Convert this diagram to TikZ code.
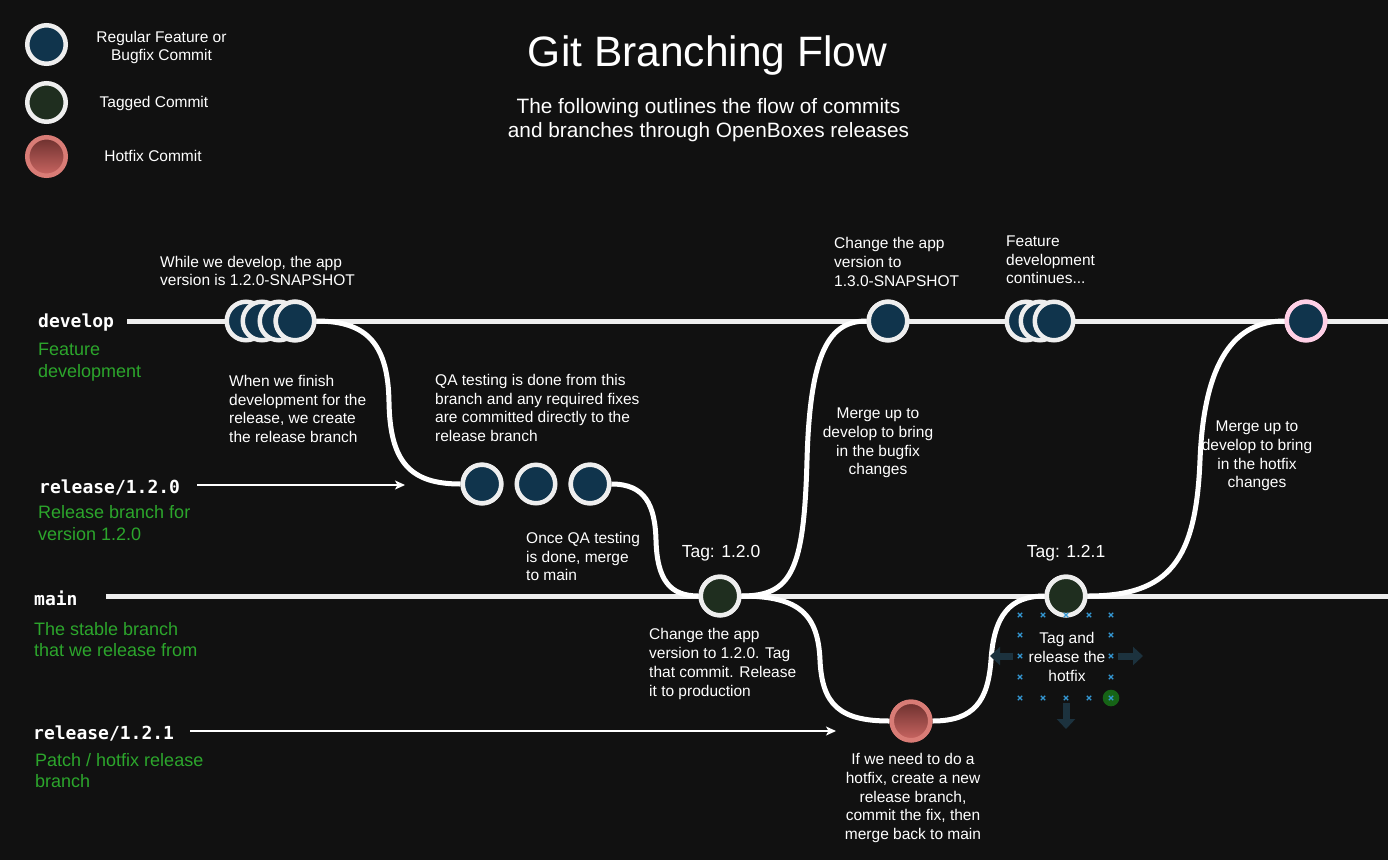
\documentclass[tikz,border=0pt]{standalone}
\usepackage{fontspec}
\setmainfont{Liberation Sans}
\newfontfamily\branchfont{DejaVu Sans Mono}
\usetikzlibrary{arrows.meta}
\definecolor{bgc}{RGB}{17,17,17}
\definecolor{cborder}{RGB}{238,238,238}
\definecolor{cblue}{RGB}{16,52,76}
\definecolor{cgreen}{RGB}{31,46,31}
\definecolor{cpink}{RGB}{255,208,230}
\definecolor{hotborder}{RGB}{217,124,118}
\definecolor{hottop}{RGB}{108,48,46}
\definecolor{hotbot}{RGB}{202,102,98}
\definecolor{lblgreen}{RGB}{44,166,44}
\definecolor{handlec}{RGB}{52,152,212}
\definecolor{blockarr}{RGB}{28,50,62}
\definecolor{handlegreen}{RGB}{22,100,22}
\tikzset{
  rail/.style={draw=cborder, line width=5pt},
  branch/.style={draw=white, line width=5pt},
  commit/.style={circle, draw=cborder, line width=4.5pt, fill=cblue, minimum size=38.5pt, inner sep=0pt},
  tagged/.style={commit, fill=cgreen},
  hotfix/.style={commit, draw=hotborder, top color=hottop, bottom color=hotbot},
  txt/.style={text=white, font=\fontsize{15.5}{18.7}\selectfont, inner sep=0pt, align=left},
  ctxt/.style={txt, align=center},
  tagtxt/.style={text=white, font=\fontsize{17.5}{20}\selectfont, inner sep=0pt},
  brname/.style={text=white, font=\branchfont\bfseries\fontsize{18}{20}\selectfont, inner sep=0pt, anchor=west},
  greentxt/.style={text=lblgreen, font=\fontsize{18}{21.5}\selectfont, inner sep=0pt, align=left, anchor=west},
  pointer/.style={draw=white, line width=1.2pt, -{Stealth[length=10pt,width=9pt,inset=2.5pt]}},
  handle/.style={draw=handlec, line width=1.3pt},
  blockarrow/.style={draw=blockarr, line width=7pt, -{Triangle[length=10pt,width=18pt]}}
}
\begin{document}
\begin{tikzpicture}[x=1pt,y=-1pt]
\fill[bgc] (0,0) rectangle (1388,860);
\useasboundingbox (0,0) rectangle (1388,860);

% legend
\node[commit] (lg1) at (46.5,44.5) {};
\node[tagged] (lg2) at (46.5,102.5) {};
\node[hotfix] (lg3) at (46.5,156.5) {};
\node[ctxt] (lgt1) at (161.5,47.5) {Regular Feature or\\Bugfix Commit};
\node[ctxt] (lgt2) at (154,103.5) {Tagged Commit};
\node[ctxt] (lgt3) at (153,156) {Hotfix Commit};

% title
\node[text=white, font=\fontsize{42.5}{50}\selectfont, inner sep=0pt] (title) at (707.5,56) {Git Branching Flow};
\node[text=white, font=\fontsize{20.8}{24}\selectfont, inner sep=0pt, align=center] (subtitle) at (708.5,120.5) {The following outlines the flow of commits\\and branches through OpenBoxes releases};

% rails
\coordinate (devstart) at (127,321);
\coordinate (devend) at (1388,321);
\coordinate (mainstart) at (106,596);
\coordinate (mainend) at (1388,596);
\draw[rail] (devstart) -- (devend);
\draw[rail] (mainstart) -- (mainend);

% commit nodes
\node[commit] (d1) at (246,321) {};
\node[commit] (d2) at (262,321) {};
\node[commit] (d3) at (279,321) {};
\node[commit] (d4) at (295,321) {};
\node[commit] (d5) at (888,321) {};
\node[commit] (d6) at (1026,321) {};
\node[commit] (d7) at (1040,321) {};
\node[commit] (d8) at (1054,321) {};
\node[commit, draw=cpink] (d9) at (1306,321) {};
\node[commit] (r1) at (482,484) {};
\node[commit] (r2) at (536,484) {};
\node[commit] (r3) at (590,484) {};
\node[tagged] (t1) at (720,596) {};
\node[tagged] (t2) at (1066,596) {};
\node[hotfix] (h1) at (911,721) {};

% branch curves
\draw[branch] (d4.east) .. controls (368,321) and (388,345) .. (389,402) .. controls (390,462) and (410,484) .. (r1.west);
\draw[branch] (r3.east) .. controls (645,484) and (655,505) .. (656,540) .. controls (657,580) and (670,596) .. (t1.west);
\draw[branch] (t1.east) .. controls (792,596) and (804,570) .. (807,460) .. controls (810,350) and (830,321) .. (d5.west);
\draw[branch] (t1.east) .. controls (800,596) and (818,615) .. (820,660) .. controls (822,705) and (840,721) .. (h1.west);
\draw[branch] (h1.east) .. controls (975,721) and (988,700) .. (991,660) .. controls (994,615) and (1010,596) .. (t2.west);
\draw[branch] (t2.east) .. controls (1170,596) and (1196,560) .. (1200,460) .. controls (1204,360) and (1235,321) .. (d9.west);

% redraw commits on top of curves
\node[commit] at (d4) {};
\node[commit] at (r1) {};
\node[commit] at (r3) {};
\node[tagged] at (t1) {};
\node[tagged] at (t2) {};
\node[commit] at (d5) {};
\node[commit, draw=cpink] at (d9) {};
\node[hotfix] at (h1) {};

% branch labels
\node[brname] (ldev) at (38,322.5) {develop};
\node[greentxt] (gdev) at (38,362) {Feature\\development};
\node[brname] (lrel1) at (39,487) {release/1.2.0};
\node[greentxt] (grel1) at (38,523) {Release branch for\\version 1.2.0};
\node[brname] (lmain) at (34,598) {main};
\node[greentxt] (gmain) at (34,639.5) {The stable branch\\that we release from};
\node[brname] (lrel2) at (33,733) {release/1.2.1};
\node[greentxt] (grel2) at (35,770.5) {Patch / hotfix release\\branch};

\coordinate (p1s) at (197,485);
\coordinate (p1e) at (405,485);
\coordinate (p2s) at (190,731);
\coordinate (p2e) at (836,731);
\draw[pointer] (p1s) -- (p1e);
\draw[pointer] (p2s) -- (p2e);

% annotations
\node[txt, anchor=west] (n1) at (160,271) {While we develop, the app\\version is 1.2.0-SNAPSHOT};
\node[txt, anchor=west] (n2) at (229,409) {When we finish\\development for the\\release, we create\\the release branch};
\node[txt, anchor=west] (n3) at (435,408) {QA testing is done from this\\branch and any required fixes\\are committed directly to the\\release branch};
\node[txt, anchor=west] (n4) at (526,556.5) {Once QA testing\\is done, merge\\to main};
\node[tagtxt] (tag1) at (721,553) {Tag: 1.2.0};
\node[txt, anchor=west] (n5) at (649,664) {Change the app\\version to 1.2.0. Tag\\that commit. Release\\it to production};
\node[txt, anchor=west] (n6) at (834,262) {Change the app\\version to\\1.3.0-SNAPSHOT};
\node[ctxt] (n7) at (878,443) {Merge up to\\develop to bring\\in the bugfix\\changes};
\node[txt, anchor=west] (n8) at (1006,260) {Feature\\development\\continues...};
\node[ctxt] (n9) at (1257,456) {Merge up to\\develop to bring\\in the hotfix\\changes};
\node[tagtxt] (tag2) at (1066,553) {Tag: 1.2.1};
\node[ctxt] (n10) at (1067,657) {Tag and\\release the\\hotfix};
\node[ctxt] (n11) at (913,798) {If we need to do a\\hotfix, create a new\\release branch,\\commit the fix, then\\merge back to main};

% selection handles around the hotfix tag label
\fill[handlegreen] (1111,698) circle (8.3);
\foreach \hx/\hy in {1020/615,1043/615,1066/615,1089/615,1111/615,
                     1020/635,1111/635,1020/656,1111/656,1020/677,1111/677,
                     1020/698,1043/698,1066/698,1089/698,1111/698}{
  \draw[handle] (\hx-2.2,\hy-2.2) -- (\hx+2.2,\hy+2.2) (\hx-2.2,\hy+2.2) -- (\hx+2.2,\hy-2.2);
}
\coordinate (bal) at (1013,656);
\coordinate (bale) at (990,656);
\coordinate (bar) at (1118,656);
\coordinate (bare) at (1143,656);
\coordinate (bad) at (1066,703);
\coordinate (bade) at (1066,729);
\draw[blockarrow] (bal) -- (bale);
\draw[blockarrow] (bar) -- (bare);
\draw[blockarrow] (bad) -- (bade);
\end{tikzpicture}
\end{document}
